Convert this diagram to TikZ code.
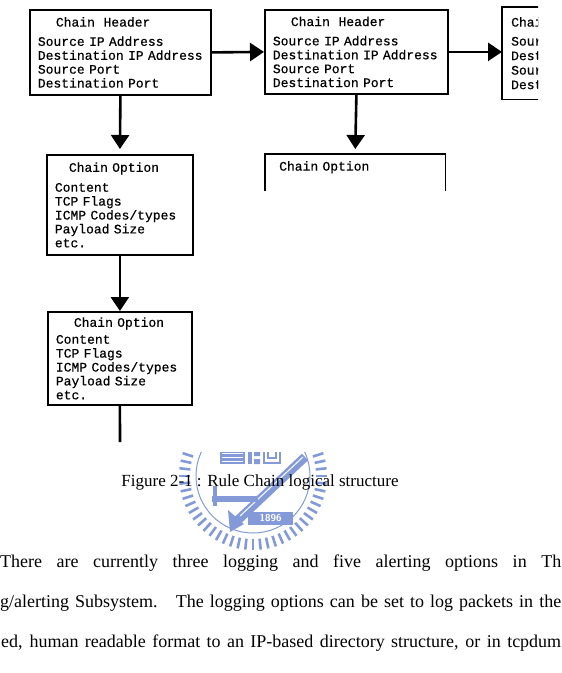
\documentclass[tikz,border=0pt]{standalone}
\usepackage{fontspec}
\setmainfont{Liberation Serif}
\newfontfamily\monofam[FakeBold=0.5]{Liberation Mono}
\usepackage{tikz}
\usetikzlibrary{arrows.meta,positioning}
\definecolor{wmblue}{RGB}{132,154,216}
\newcommand{\chaintt}{\monofam\fontsize{13}{13.9}\selectfont}
\tikzset{
    chainbox/.style={draw, line width=1.8pt, anchor=north west, inner xsep=8pt, inner ysep=0pt, align=left, font=\chaintt},
    openbox/.style={anchor=north west, inner ysep=0pt, align=left, font=\chaintt},
    link/.style={->, line width=2.6pt},
    stamp/.style={draw=wmblue},
    para/.style={anchor=base west, inner sep=0pt, font=\fontsize{18}{22}\selectfont}
}

\begin{document}
\begin{tikzpicture}[x=1pt, y=-1pt, >={Triangle[length=14pt,width=18pt]}]
\def\pw{562}    % page width
\def\ph{673}    % page height
\def\gap{5pt}   % space left above the option boxes
\useasboundingbox (0,0) rectangle (\pw,\ph);
\clip (0,0) rectangle (\pw,\ph);
% seal behind the caption
\begin{scope}
\clip (0,452) rectangle (\pw,\ph);
\foreach \a in {0,6,...,354} {%
\draw[stamp, line width=2.6pt] (253,476) ++(\a:63) -- ++(\a:11);
};
\draw[stamp, line width=1pt] (253,476) circle[radius=57];
\fill[wmblue] (220,440) rectangle (245,464);
\foreach \y in {453,457,461} \draw[white, line width=1pt] (222,\y) -- (243,\y);
\fill[wmblue] (248,450) rectangle (252,464);
\fill[wmblue] (254,452) rectangle (260,456) (254,459) rectangle (260,464);
\draw[stamp, line width=2.5pt] (264,440) rectangle (280,463);
\draw[stamp, line width=1.5pt] (268,448) rectangle (276,458);
\draw[stamp, line width=9pt] (238,520) -- (305,457);
\draw[white, line width=1pt] (240,516) -- (303,457);
\draw[stamp, line width=6pt] (212,499) -- (258,499);
\draw[stamp, line width=4pt] (215,486) -- (215,506);
\fill[wmblue] (228,510) -- (244,524) -- (230,532) -- cycle;
\fill[wmblue] (248,512) rectangle (293,525);
\node[font=\sffamily\bfseries\fontsize{10}{10}\selectfont, text=white] (year) at (270.5,518.5) {1896};
\end{scope}
% chain headers
\node[chainbox, text width=165pt, minimum height=85pt] (hdr1) at (29,9)
  {\hspace*{18pt}Chain\ \ Header\\[5.4pt]Source IP Address\\\mbox{Destination IP Address}\\Source Port\\Destination Port};
\node[chainbox, text width=167pt, minimum height=84pt] (hdr2) at (264,9)
  {\hspace*{18pt}Chain\ \ Header\\[5.4pt]Source IP Address\\\mbox{Destination IP Address}\\Source Port\\Destination Port};
\begin{scope}
\clip (490,0) rectangle (538,110);
\node[openbox, inner xsep=9pt, text width=30pt, minimum height=92pt,
  font=\monofam\fontsize{13}{14.5}\selectfont] (hdr3) at (502,7)
  {Chai\\[4.5pt]Sour\\Dest\\Sour\\Dest};
\draw[line width=1.8pt] (hdr3.north west) ++(40,0) -- (hdr3.north west) -- (hdr3.south west) -- ++(40,0);
\end{scope}
% chain options
\node[chainbox, text width=130pt, minimum height=100pt] (opt1) at (46,154)
  {\hspace*{14pt}Chain Option\\[6pt]Content\\TCP Flags\\\mbox{ICMP Codes/types}\\Payload Size\\etc.};
\node[chainbox, text width=128pt, minimum height=93pt] (opt3) at (47,311)
  {\hspace*{18pt}Chain Option\\[3pt]Content\\TCP Flags\\\mbox{ICMP Codes/types}\\Payload Size\\etc.};
\node[openbox, inner xsep=14pt, inner ysep=7pt, text width=152pt] (opt2) at (265,154) {Chain Option};
\draw[line width=1.8pt] (opt2.north west) ++(0,37) -- (opt2.north west) -- (opt2.north east) -- ++(0,37);
\coordinate (tail) at (120,442);
% links
\draw[link] (hdr1.east) -- (hdr2.west);
\draw[link] (hdr2.east) -- (hdr2.east -| hdr3.west);
\draw[link, shorten >=\gap] (hdr1.south) -- (opt1.north);
\draw[link, shorten >=\gap] (hdr2.south) -- (opt2.north);
\draw[link] (opt1.south) -- (opt3.north);
\draw[line width=2.6pt] (opt3.south) -- (tail);
% caption and text
\node[font=\fontsize{17}{20}\selectfont, anchor=base, inner sep=0pt] (cap) at (260,486)
  {Figure 2-1 : Rule Chain logical structure};
\node[para] (line1) at (0,567) {\makebox[561pt][s]{There are currently three logging and five alerting options in Th}};
\node[para] (line2) at (0,607) {\makebox[561pt][s]{g/alerting Subsystem.\ \ \ The logging options can be set to log packets in the}};
\node[para] (line3) at (1,647) {\makebox[560pt][s]{ed, human readable format to an IP-based directory structure, or in tcpdum}};
\end{tikzpicture}
\end{document}
